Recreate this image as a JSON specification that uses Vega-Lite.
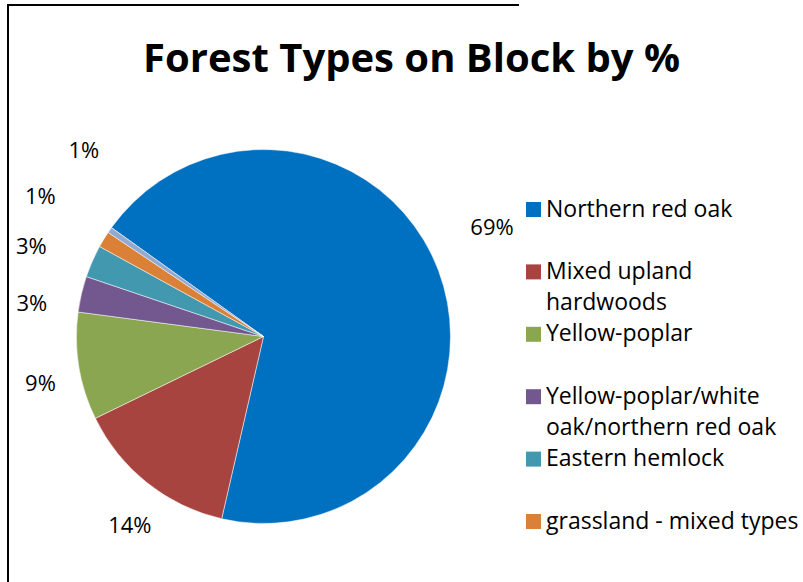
{
  "$schema": "https://vega.github.io/schema/vega-lite/v6.json",
  "width": 511,
  "height": 663,
  "autosize": {"type": "none"},
  "padding": {"left": 8, "top": 5, "right": 284, "bottom": -86},
  "background": "white",
  "view": {"stroke": "black", "strokeWidth": 2, "strokeDash": [1174, 1174], "strokeDashOffset": 663, "fill": null},
  "config": {
    "view": {"stroke": "black", "strokeWidth": 2, "strokeDash": [1174, 1174], "strokeDashOffset": 663},
    "font": "Open Sans",
    "style": {"guide-label": {"lineHeight": 31}}
  },
  "title": {
    "text": "Forest Types on Block by %",
    "font": "Open Sans",
    "fontSize": 40,
    "fontWeight": "bold",
    "color": "black",
    "anchor": "middle",
    "dx": 148,
    "offset": -107,
    "baseline": "alphabetic"
  },
  "data": {
    "values": [
      {"idx": 1, "type": "Northern red oak", "value": 68.7, "label": "69%"},
      {"idx": 2, "type": "Mixed upland hardwoods", "value": 14.2, "label": "14%"},
      {"idx": 3, "type": "Yellow-poplar", "value": 9.3, "label": "9%"},
      {"idx": 4, "type": "Yellow-poplar/white oak/northern red oak", "value": 3.1, "label": "3%"},
      {"idx": 5, "type": "Eastern hemlock", "value": 2.8, "label": "3%"},
      {"idx": 6, "type": "grassland - mixed types", "value": 1.4, "label": "1%"},
      {"idx": 7, "type": "Other", "value": 0.5, "label": "1%"}
    ]
  },
  "encoding": {
    "theta": {"field": "value", "type": "quantitative", "stack": true, "scale": {"range": [5.334, 11.617]}},
    "order": {"field": "idx", "type": "quantitative"}
  },
  "layer": [
    {
      "mark": {"type": "arc", "outerRadius": 187, "stroke": "white", "strokeWidth": 0.5},
      "encoding": {
        "color": {
          "field": "type",
          "type": "nominal",
          "scale": {
            "domain": ["Northern red oak", "Mixed upland hardwoods", "Yellow-poplar", "Yellow-poplar/white oak/northern red oak", "Eastern hemlock", "grassland - mixed types", "Other"],
            "range": ["#0070C0", "#A8443F", "#8BA650", "#72588F", "#4198AF", "#DA8137", "#93A9CF"]
          },
          "legend": {
            "title": null,
            "orient": "none",
            "legendX": 514,
            "legendY": 193,
            "padding": 0,
            "values": ["Northern red oak", "Mixed upland hardwoods", "Yellow-poplar", "Yellow-poplar/white oak/northern red oak", "Eastern hemlock", "grassland - mixed types"],
            "symbolType": "square",
            "symbolSize": 225,
            "symbolStrokeWidth": 0,
            "labelFont": "Open Sans",
            "labelFontSize": 23,
            "labelColor": "black",
            "labelOffset": 1,
            "labelLimit": 400,
            "rowPadding": 7.4,
            "labelExpr": "datum.label == 'Mixed upland hardwoods' ? ['Mixed upland', 'hardwoods'] : datum.label == 'Yellow-poplar/white oak/northern red oak' ? ['Yellow-poplar/white', 'oak/northern red oak'] : [datum.label, ' ']",
            "encode": {"labels": {"update": {"dy": {"value": 15.5}, "lineHeight": {"value": 31}}}}
          }
        }
      }
    },
    {
      "mark": {"type": "text", "radius": 253, "thetaOffset": -0.082, "font": "Open Sans", "fontSize": 22, "color": "black", "baseline": "middle", "align": "center"},
      "encoding": {"text": {"condition": {"test": "datum.idx == 1", "field": "label"}, "value": ""}}
    },
    {
      "mark": {"type": "text", "radius": 232, "thetaOffset": -0.058, "font": "Open Sans", "fontSize": 22, "color": "black", "baseline": "middle", "align": "center"},
      "encoding": {"text": {"condition": {"test": "datum.idx == 2", "field": "label"}, "value": ""}}
    },
    {
      "mark": {"type": "text", "radius": 228, "thetaOffset": -0.049, "font": "Open Sans", "fontSize": 22, "color": "black", "baseline": "middle", "align": "center"},
      "encoding": {"text": {"condition": {"test": "datum.idx == 3", "field": "label"}, "value": ""}}
    },
    {
      "mark": {"type": "text", "radius": 234, "thetaOffset": -0.089, "font": "Open Sans", "fontSize": 22, "color": "black", "baseline": "middle", "align": "center"},
      "encoding": {"text": {"condition": {"test": "datum.idx == 4", "field": "label"}, "value": ""}}
    },
    {
      "mark": {"type": "text", "radius": 249, "thetaOffset": -0.045, "font": "Open Sans", "fontSize": 22, "color": "black", "baseline": "middle", "align": "center"},
      "encoding": {"text": {"condition": {"test": "datum.idx == 5", "field": "label"}, "value": ""}}
    },
    {
      "mark": {"type": "text", "radius": 263, "thetaOffset": 0.012, "font": "Open Sans", "fontSize": 22, "color": "black", "baseline": "middle", "align": "center"},
      "encoding": {"text": {"condition": {"test": "datum.idx == 6", "field": "label"}, "value": ""}}
    },
    {
      "mark": {"type": "text", "radius": 258, "thetaOffset": 0.195, "font": "Open Sans", "fontSize": 22, "color": "black", "baseline": "middle", "align": "center"},
      "encoding": {"text": {"condition": {"test": "datum.idx == 7", "field": "label"}, "value": ""}}
    }
  ]
}
